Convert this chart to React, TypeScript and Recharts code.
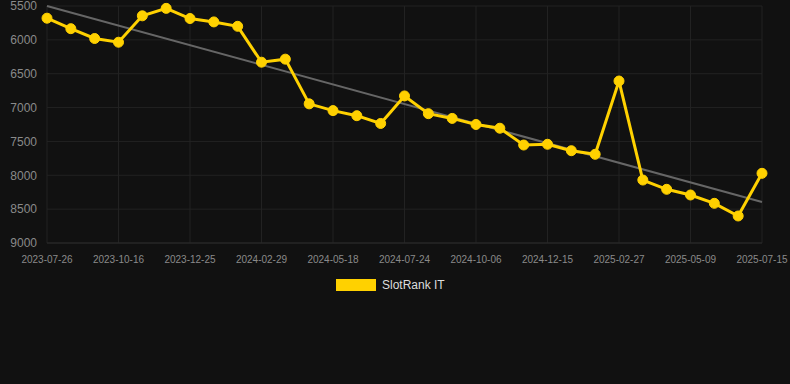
import React from "react";
import {
  LineChart,
  Line,
  XAxis,
  YAxis,
  CartesianGrid,
  ReferenceLine,
} from "recharts";

// dates of each sample (only every third one is labelled on the axis)
const dates = [
  "2023-07-26", "2023-08-22", "2023-09-19", "2023-10-16", "2023-11-09",
  "2023-12-02", "2023-12-25", "2024-01-17", "2024-02-08", "2024-02-29",
  "2024-03-25", "2024-04-21", "2024-05-18", "2024-06-09", "2024-07-02",
  "2024-07-24", "2024-08-18", "2024-09-12", "2024-10-06", "2024-10-29",
  "2024-11-22", "2024-12-15", "2025-01-08", "2025-02-02", "2025-02-27",
  "2025-03-23", "2025-04-16", "2025-05-09", "2025-05-31", "2025-06-23",
  "2025-07-15",
];

const rankIT = [
  5680, 5835, 5980, 6035, 5645, 5535, 5685, 5735, 5800, 6330, 6285, 6945,
  7045, 7120, 7235, 6828, 7090, 7160, 7250, 7305, 7553, 7542, 7637, 7690,
  6608, 8070, 8207, 8291, 8414, 8601, 7971,
];

const xTicks = [
  "2023-07-26", "2023-10-16", "2023-12-25", "2024-02-29", "2024-05-18",
  "2024-07-24", "2024-10-06", "2024-12-15", "2025-02-27", "2025-05-09",
  "2025-07-15",
];

const yTicks = [5500, 6000, 6500, 7000, 7500, 8000, 8500, 9000];

// trend line end values
const trendStart = 5500;
const trendEnd = 8395;

const YELLOW = "#ffd100";
const BG = "#111111";

const data = dates.map((d, i) => ({ date: d, rank: rankIT[i] }));

document.body.style.margin = "0";
document.body.style.background = BG;

export default function App() {
  return (
    <div
      style={{
        position: "relative",
        width: 790,
        height: 384,
        background: BG,
        fontFamily: "'Liberation Sans', Arial, sans-serif",
      }}
    >
      <LineChart
        width={790}
        height={384}
        data={data}
        margin={{ top: 6, right: 28, left: 0, bottom: 111 }}
      >
        <CartesianGrid stroke="#222222" syncWithTicks />
        <XAxis
          dataKey="date"
          ticks={xTicks}
          interval={0}
          tickLine={false}
          axisLine={{ stroke: "#2a2a2a" }}
          tickMargin={7}
          tick={{ fill: "#8a8a8a", fontSize: 10 }}
        />
        <YAxis
          reversed
          domain={[5500, 9000]}
          ticks={yTicks}
          interval={0}
          width={47}
          tickLine={false}
          axisLine={false}
          tickMargin={4}
          tick={{ fill: "#8a8a8a", fontSize: 12 }}
        />
        <ReferenceLine
          segment={[
            { x: dates[0], y: trendStart },
            { x: dates[dates.length - 1], y: trendEnd },
          ]}
          stroke="#666666"
          strokeWidth={2}
        />
        <Line
          type="linear"
          dataKey="rank"
          stroke={YELLOW}
          strokeWidth={3}
          dot={{ r: 5, fill: YELLOW, stroke: YELLOW, strokeWidth: 1 }}
          activeDot={false}
          isAnimationActive={false}
        />
      </LineChart>
      <div
        style={{
          position: "absolute",
          left: 336,
          top: 278,
          display: "flex",
          alignItems: "center",
          fontSize: 12,
          color: "#dddddd",
        }}
      >
        <span
          style={{
            display: "inline-block",
            width: 40,
            height: 12,
            background: YELLOW,
            marginRight: 6,
          }}
        />
        <span>SlotRank IT</span>
      </div>
    </div>
  );
}
